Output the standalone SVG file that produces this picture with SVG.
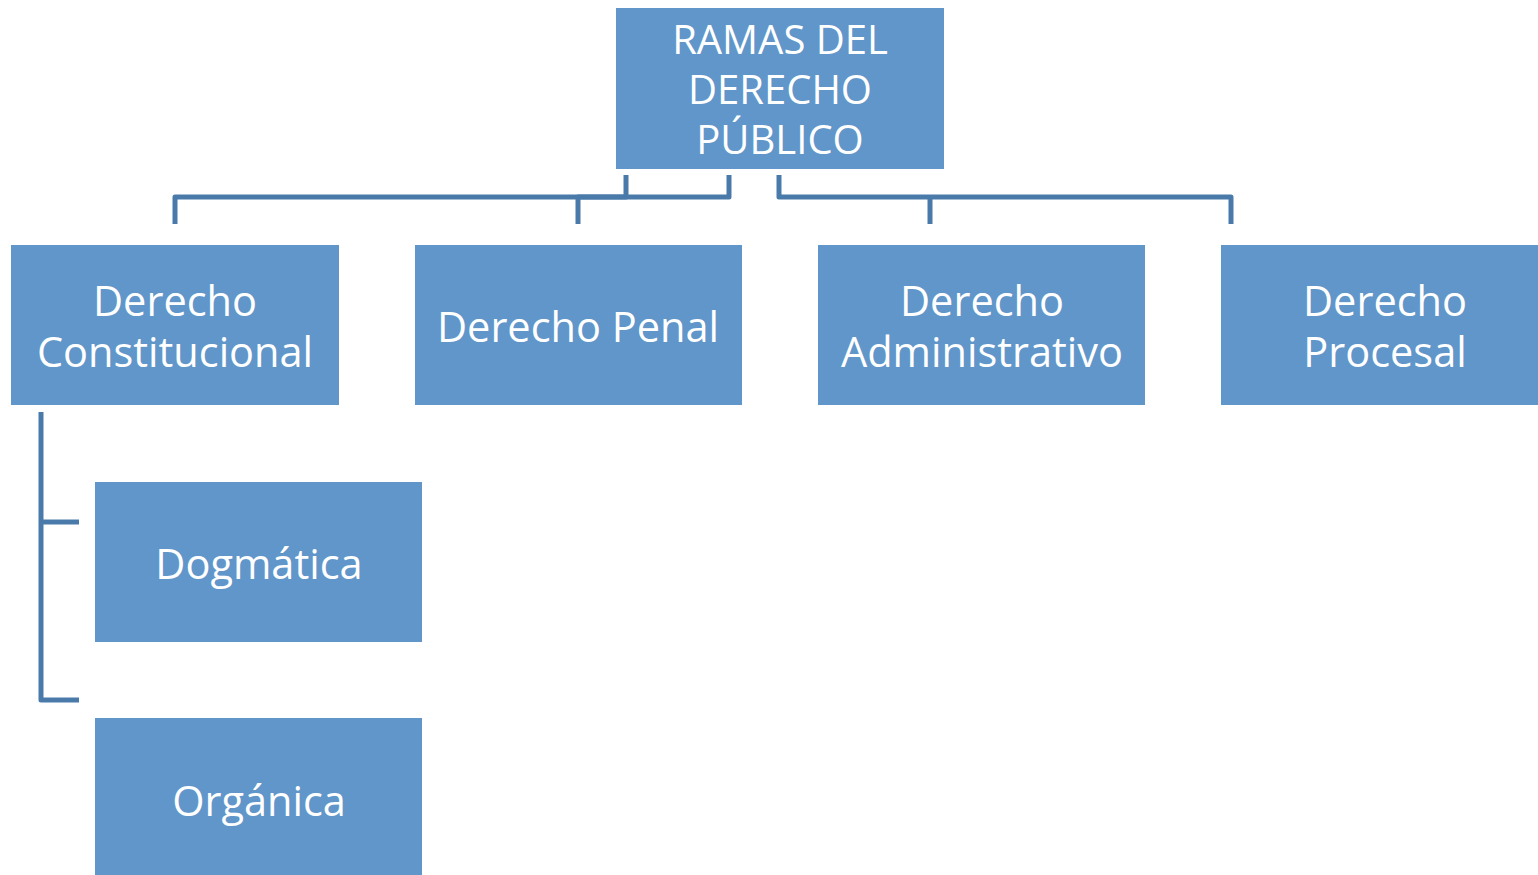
<svg xmlns="http://www.w3.org/2000/svg" width="1538" height="875" viewBox="0 0 1538 875">
<style>
.box{fill:#6096c9;}
.t{fill:#ffffff;font-family:"Open Sans","Noto Sans",sans-serif;font-size:41.5px;text-anchor:middle;}
.r{font-size:40px;}
.c{fill:none;stroke:#4a7aa9;stroke-width:5;stroke-linejoin:round;}
</style>
<rect width="1538" height="875" fill="#ffffff"/>
<g id="connectors">
<path class="c" d="M626,175 V197 H175 V224"/>
<path class="c" d="M729,175 V197 H578 V224"/>
<path class="c" d="M779,175 V197 H1231 V224"/>
<path class="c" d="M930,197 V224"/>
<path class="c" d="M41,412 V700 H79"/>
<path class="c" d="M41,522 H79"/>
</g>
<g id="root">
<rect class="box" x="616" y="8" width="328" height="161"/>
<text class="t r"><tspan x="780" y="54">RAMAS DEL</tspan><tspan x="780" y="104">DERECHO</tspan><tspan x="780" y="154">PÚBLICO</tspan></text>
</g>
<g id="constitucional">
<rect class="box" x="11" y="245" width="328" height="160"/>
<text class="t"><tspan x="175" y="316">Derecho</tspan><tspan x="175" y="367">Constitucional</tspan></text>
</g>
<g id="penal">
<rect class="box" x="415" y="245" width="327" height="160"/>
<text class="t" x="578" y="342">Derecho Penal</text>
</g>
<g id="administrativo">
<rect class="box" x="818" y="245" width="327" height="160"/>
<text class="t"><tspan x="982" y="316">Derecho</tspan><tspan x="982" y="367">Administrativo</tspan></text>
</g>
<g id="procesal">
<rect class="box" x="1221" y="245" width="317" height="160"/>
<text class="t"><tspan x="1385" y="316">Derecho</tspan><tspan x="1385" y="367">Procesal</tspan></text>
</g>
<g id="dogmatica">
<rect class="box" x="95" y="482" width="327" height="160"/>
<text class="t" x="259" y="579">Dogmática</text>
</g>
<g id="organica">
<rect class="box" x="95" y="718" width="327" height="157"/>
<text class="t" x="259" y="816">Orgánica</text>
</g>
</svg>
